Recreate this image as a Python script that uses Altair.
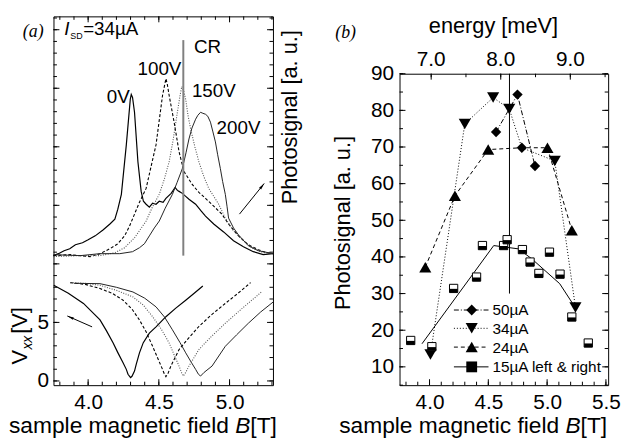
import altair as alt
import pandas as pd

FONT = "Liberation Sans"
SERIF = "Liberation Serif"

# ---------------- panel (a): Vxx traces (B [T], Vxx [V]) ----------------
vxx0_B = [3.757, 3.86, 3.967, 4.084, 4.13, 4.177, 4.21, 4.247, 4.27, 4.282, 4.300, 4.31, 4.328, 4.34, 4.363, 4.39, 4.433, 4.48, 4.55, 4.62, 4.69, 4.75, 4.811]
vxx0_V = [8.17, 7.49, 6.62, 5.21, 4.28, 3.24, 2.42, 1.55, 0.99, 0.57, 0.29, 0.40, 0.84, 1.41, 2.40, 3.27, 4.09, 4.62, 5.49, 6.22, 6.90, 7.49, 8.11]
vxx100_B = [3.874, 3.98, 4.084, 4.17, 4.247, 4.31, 4.363, 4.41, 4.456, 4.49, 4.526, 4.54, 4.55, 4.565, 4.585, 4.643, 4.70, 4.783, 4.87, 4.97, 5.06, 5.149]
vxx100_V = [8.40, 8.25, 7.89, 7.49, 6.90, 6.14, 5.21, 4.20, 2.96, 2.00, 0.99, 0.57, 0.37, 0.65, 1.27, 2.68, 3.52, 4.65, 5.63, 6.62, 7.49, 8.40]
vxx150_B = [3.874, 3.98, 4.084, 4.20, 4.317, 4.39, 4.456, 4.52, 4.573, 4.61, 4.643, 4.66, 4.673, 4.69, 4.713, 4.783, 4.87, 4.97, 5.10, 5.226]
vxx150_V = [8.40, 8.34, 8.17, 7.74, 7.18, 6.48, 5.49, 4.37, 3.24, 2.17, 1.27, 0.73, 0.42, 0.73, 1.27, 2.68, 3.78, 4.93, 6.31, 7.60]
vxx200_B = [3.90, 4.084, 4.20, 4.317, 4.40, 4.48, 4.54, 4.596, 4.65, 4.69, 4.73, 4.76, 4.78, 4.795, 4.82, 4.876, 4.97, 5.05, 5.133, 5.22, 5.31]
vxx200_V = [8.34, 8.31, 8.00, 7.60, 7.07, 6.33, 5.46, 4.37, 3.27, 2.40, 1.58, 0.99, 0.57, 0.42, 0.73, 1.27, 2.96, 3.94, 4.93, 5.89, 6.76]

# ---------------- panel (a): photosignal traces (B [T], a.u.) ----------------
ps0_B = [3.755, 3.79, 3.83, 3.87, 3.91, 3.96, 4.00, 4.05, 4.105, 4.154, 4.189, 4.21, 4.235, 4.270, 4.298, 4.305, 4.314, 4.328, 4.352, 4.375, 4.391, 4.410, 4.433, 4.456, 4.48, 4.503, 4.53, 4.550, 4.587, 4.615, 4.631, 4.643, 4.666, 4.69, 4.713, 4.760, 4.80, 4.830, 4.888, 4.958, 5.028, 5.098, 5.168, 5.238, 5.307]
ps0_P = [-0.2, 0.0, 0.3, 0.5, 0.9, 1.1, 1.4, 1.8, 2.4, 3.0, 3.5, 4.5, 6.0, 11.0, 15.6, 16.1, 15.8, 14.3, 9.3, 6.3, 5.3, 5.0, 4.7, 5.1, 5.0, 5.3, 5.2, 5.6, 6.1, 6.7, 6.4, 6.3, 6.1, 5.8, 5.5, 5.0, 4.3, 3.8, 3.0, 2.2, 1.3, 0.7, 0.2, -0.1, 0.0]
ps100_B = [3.755, 3.874, 4.014, 4.084, 4.154, 4.210, 4.258, 4.293, 4.328, 4.363, 4.410, 4.440, 4.480, 4.503, 4.526, 4.550, 4.559, 4.573, 4.608, 4.643, 4.678, 4.736, 4.783, 4.830, 4.888, 4.946, 4.993, 5.063, 5.133, 5.203, 5.259, 5.307]
ps100_P = [-0.2, -0.1, -0.3, 0.0, 0.5, 1.0, 1.8, 2.8, 4.0, 5.2, 6.6, 8.5, 11.0, 13.5, 16.0, 17.7, 17.2, 16.0, 13.3, 10.3, 8.3, 7.0, 6.2, 5.6, 4.8, 4.0, 3.0, 1.8, 0.9, 0.4, 0.1, 0.0]
ps150_B = [3.755, 3.944, 4.084, 4.189, 4.258, 4.328, 4.410, 4.454, 4.503, 4.538, 4.573, 4.601, 4.631, 4.650, 4.662, 4.675, 4.690, 4.706, 4.725, 4.755, 4.783, 4.818, 4.853, 4.888, 4.923, 4.970, 5.028, 5.098, 5.168, 5.238, 5.307]
ps150_P = [-0.3, -0.2, -0.2, 0.1, 0.6, 1.6, 3.3, 4.7, 6.0, 7.5, 9.3, 11.5, 14.3, 16.0, 16.9, 16.5, 15.6, 14.0, 12.6, 10.8, 9.3, 7.8, 6.6, 5.8, 5.0, 3.6, 2.3, 1.3, 0.5, 0.1, 0.0]
ps200_B = [3.755, 3.944, 4.084, 4.224, 4.314, 4.363, 4.398, 4.433, 4.468, 4.503, 4.545, 4.596, 4.629, 4.666, 4.692, 4.713, 4.734, 4.760, 4.776, 4.795, 4.811, 4.830, 4.846, 4.865, 4.881, 4.900, 4.916, 4.935, 4.951, 4.970, 4.982, 4.993, 5.028, 5.063, 5.133, 5.203, 5.307]
ps200_P = [-0.1, -0.2, 0.0, 0.0, 0.2, 0.6, 1.0, 1.8, 2.6, 3.3, 4.6, 6.0, 7.2, 8.6, 10.2, 11.6, 12.7, 13.6, 14.0, 14.3, 14.2, 14.1, 13.9, 13.3, 12.4, 11.3, 10.0, 8.6, 7.3, 6.0, 4.8, 3.6, 2.6, 1.9, 0.8, 0.3, 0.0]

a_series = ["0V", "100V", "150V", "200V"]
a_label_text = ["0V", "100V", "150V", "200V", "CR"]
cr_B = 4.673
a_xlabels = [4.0, 4.5, 5.0]
a_ylabels = [0, 5]
a_xminor = [3.8, 3.9, 4.0, 4.1, 4.2, 4.3, 4.4, 4.5, 4.6, 4.7, 4.8, 4.9, 5.0, 5.1, 5.2, 5.3]
a_xmajor = [4.0, 4.5, 5.0]
a_yminor = list(range(0, 32))
a_ymajor = [0, 5, 10, 15, 20, 25, 30]

# ---------------- panel (b) ----------------
b50_B = [4.566, 4.748, 4.785, 4.897]
b50_P = [74.1, 84.3, 69.8, 64.8]
b50_line = [True, True, False, True]
b34_B = [4.008, 4.300, 4.541, 4.678, 4.785, 5.065, 5.241]
b34_P = [13.4, 76.3, 83.5, 80.4, 69.8, 66.2, 26.2]
b34_mark = [True, True, True, True, False, True, True]
b24_B = [3.964, 4.216, 4.499, 4.785, 5.003, 5.210]
b24_P = [37.2, 56.7, 69.3, 69.8, 69.8, 47.3]
b24_mark = [True, True, True, False, True, True]
b15_B = [3.84, 4.02, 4.205, 4.40, 4.45, 4.63, 4.66, 4.79, 4.855, 4.93, 5.02, 5.11, 5.21, 5.35]
b15_P = [17.2, 15.5, 31.4, 34.5, 43.1, 43.1, 44.7, 42.0, 38.6, 35.5, 41.3, 35.3, 23.6, 16.5]
b15fit_B = [3.936, 4.546, 4.756, 4.869, 5.107, 5.239]
b15fit_P = [16.3, 43.1, 42.2, 39.5, 32.7, 26.2]
b_legend = ["50µA", "34µA", "24µA", "15µA left & right"]
b_vline_B = 4.68
b_xlabels = [4.0, 4.5, 5.0, 5.5]
b_ylabels = [10, 20, 30, 40, 50, 60, 70, 80, 90]
b_xminor = [3.8, 3.9, 4.0, 4.1, 4.2, 4.3, 4.4, 4.5, 4.6, 4.7, 4.8, 4.9, 5.0, 5.1, 5.2, 5.3, 5.4, 5.5]
b_xmajor = [4.0, 4.5, 5.0, 5.5]
b_yminor = [5, 10, 15, 20, 25, 30, 35, 40, 45, 50, 55, 60, 65, 70, 75, 80, 85, 90]
b_ymajor = [10, 20, 30, 40, 50, 60, 70, 80, 90]
e_labels = [7.0, 8.0, 9.0]
e_minor = [7.0, 7.5, 8.0, 8.5, 9.0, 9.5]

# ---------------- geometry ----------------
WA, HA = 222, 373
WB, HB = 211, 315
XA = alt.Scale(domain=[3.755, 5.307], nice=False, zero=False)
YA = alt.Scale(domain=[-0.36, 31.14], nice=False, zero=False)
PA = alt.Scale(domain=[-13.3, 24.0], nice=False, zero=False)
XB = alt.Scale(domain=[3.745, 5.519], nice=False, zero=False)
YB = alt.Scale(domain=[5, 90], nice=False, zero=False)
EB = alt.Scale(domain=[6.545, 9.544], nice=False, zero=False)

MAJ, MIN = 6, 3.5


def txt(s, x, y, size, angle=0, align="left", style="normal", font=FONT, color="black"):
    return alt.Chart(pd.DataFrame({"t": [s]})).mark_text(
        text=s, font=font, fontSize=size, fontStyle=style, angle=angle,
        align=align, baseline="alphabetic", color=color
    ).encode(x=alt.value(x), y=alt.value(y))


def ticks_x(vals, scale, h, length, top=False):
    y0, y1 = (0, length) if top else (h, h - length)
    return alt.Chart(pd.DataFrame({"v": vals})).mark_rule(color="black", strokeWidth=1).encode(
        x=alt.X("v:Q", scale=scale, axis=None), y=alt.value(y0), y2=alt.value(y1))


def ticks_y(vals, scale, w, length, right=False):
    x0, x1 = (w, w - length) if right else (0, length)
    return alt.Chart(pd.DataFrame({"v": vals})).mark_rule(color="black", strokeWidth=1).encode(
        y=alt.Y("v:Q", scale=scale, axis=None), x=alt.value(x0), x2=alt.value(x1))


STYLE = {
    "0V": dict(color="black", strokeWidth=1.2),
    "100V": dict(color="black", strokeWidth=1.1, strokeDash=[3, 2]),
    "150V": dict(color="#555555", strokeWidth=1.1, strokeDash=[1, 1.5]),
    "200V": dict(color="#222222", strokeWidth=1.0),
}

vxx_data = {"0V": (vxx0_B, vxx0_V), "100V": (vxx100_B, vxx100_V),
            "150V": (vxx150_B, vxx150_V), "200V": (vxx200_B, vxx200_V)}
ps_data = {"0V": (ps0_B, ps0_P), "100V": (ps100_B, ps100_P),
           "150V": (ps150_B, ps150_P), "200V": (ps200_B, ps200_P)}

layers_a = []
# invisible anchor fixing the top-left corner of the whole picture
layers_a.append(alt.Chart(pd.DataFrame({"a": [0]})).mark_rule(strokeWidth=0, opacity=0).encode(
    x=alt.value(-45), x2=alt.value(-45), y=alt.value(-5), y2=alt.value(-5)))

first = True
for s in a_series:
    bb, vv = vxx_data[s]
    df = pd.DataFrame({"B": bb, "V": vv})
    if first:
        xax = alt.Axis(values=a_xlabels, format=".1f", labelPadding=7, labelFlush=False,
                       labelOverlap=False, title=None)
        yax = alt.Axis(values=a_ylabels, format="d", labelPadding=5, labelOverlap=False, title=None)
        first = False
    else:
        xax, yax = None, None
    layers_a.append(alt.Chart(df).mark_line(**STYLE[s]).encode(
        x=alt.X("B:Q", scale=XA, axis=xax), y=alt.Y("V:Q", scale=YA, axis=yax)))

for s in a_series:
    bb, pp = ps_data[s]
    df = pd.DataFrame({"B": bb, "P": pp})
    layers_a.append(alt.Chart(df).mark_line(**STYLE[s]).encode(
        x=alt.X("B:Q", scale=XA, axis=None), y=alt.Y("P:Q", scale=PA, axis=None)))

# CR line
layers_a.append(alt.Chart(pd.DataFrame({"B": [cr_B], "P1": [21.6], "P2": [-0.2]})).mark_rule(
    color="#808080", strokeWidth=2).encode(
    x=alt.X("B:Q", scale=XA, axis=None), y=alt.Y("P1:Q", scale=PA, axis=None), y2="P2:Q"))

# arrows
ARROW = "M0,0L0.45,2.2L-0.45,2.2Z"
arr1 = pd.DataFrame({"B1": [5.070], "B2": [5.245], "P1": [4.0], "P2": [7.1]})
layers_a.append(alt.Chart(arr1).mark_rule(color="black", strokeWidth=1).encode(
    x=alt.X("B1:Q", scale=XA, axis=None), x2="B2:Q",
    y=alt.Y("P1:Q", scale=PA, axis=None), y2="P2:Q"))
layers_a.append(alt.Chart(arr1).mark_point(shape=ARROW, filled=True, color="black", size=36, angle=39, opacity=1).encode(
    x=alt.X("B2:Q", scale=XA, axis=None), y=alt.Y("P2:Q", scale=PA, axis=None)))
arr2 = pd.DataFrame({"B1": [4.028], "B2": [3.853], "V1": [4.62], "V2": [5.55]})
layers_a.append(alt.Chart(arr2).mark_rule(color="black", strokeWidth=1).encode(
    x=alt.X("B1:Q", scale=XA, axis=None), x2="B2:Q",
    y=alt.Y("V1:Q", scale=YA, axis=None), y2="V2:Q"))
layers_a.append(alt.Chart(arr2).mark_point(shape=ARROW, filled=True, color="black", size=36, angle=294, opacity=1).encode(
    x=alt.X("B2:Q", scale=XA, axis=None), y=alt.Y("V2:Q", scale=YA, axis=None)))

# ticks (a)
layers_a += [
    ticks_x(a_xminor, XA, HA, MIN), ticks_x(a_xmajor, XA, HA, MAJ),
    ticks_x(a_xminor, XA, HA, MIN, top=True), ticks_x(a_xmajor, XA, HA, MAJ, top=True),
    ticks_y(a_yminor, YA, WA, MIN), ticks_y(a_ymajor, YA, WA, MAJ),
    ticks_y(a_yminor, YA, WA, MIN, right=True), ticks_y(a_ymajor, YA, WA, MAJ, right=True),
]

# texts (a)
layers_a += [
    txt("(a)", -31, 21, 18, style="italic", font=SERIF),
    txt("I", 11, 19, 19, style="italic"),
    txt("SD", 17, 23, 9),
    txt("=34µA", 30, 19, 19),
    txt(a_label_text[0], 54, 88, 19),
    txt(a_label_text[1], 85, 59, 19),
    txt(a_label_text[2], 140, 82, 19),
    txt(a_label_text[3], 165, 119, 19),
    txt(a_label_text[4], 142, 37, 19),
    txt("Photosignal [a. u.]", 246, 102, 22, angle=270, align="center"),
    txt("V", -27, 352, 22, angle=270),
    txt("xx", -22, 337, 14, angle=270, style="italic"),
    txt("[V]", -27, 321, 22, angle=270),
    txt("sample magnetic field ", -45, 421, 23),
    txt("B", 183.8, 421, 23, style="italic"),
    txt(" [T]", 199.1, 421, 23),
]

chart_a = alt.layer(*layers_a).resolve_scale(x="independent", y="independent").properties(width=WA, height=HA)

# ---------------- panel (b) layers ----------------
layers_b = []
df15fit = pd.DataFrame({"B": b15fit_B, "P": b15fit_P})
layers_b.append(alt.Chart(df15fit).mark_line(color="black", strokeWidth=1).encode(
    x=alt.X("B:Q", scale=XB, axis=alt.Axis(values=b_xlabels, format=".1f", labelPadding=7,
                                           labelFlush=False, labelOverlap=False, title=None)),
    y=alt.Y("P:Q", scale=YB, axis=alt.Axis(values=b_ylabels, format="d", labelPadding=6,
                                           labelOverlap=False, title=None))))

layers_b.append(alt.Chart(pd.DataFrame({"B": [b_vline_B], "P1": [90], "P2": [30]})).mark_rule(
    color="black", strokeWidth=1).encode(
    x=alt.X("B:Q", scale=XB, axis=None), y=alt.Y("P1:Q", scale=YB, axis=None), y2="P2:Q"))

DASH = {"50": [5, 2, 1, 2], "34": [1, 2], "24": [4, 3]}

df50 = pd.DataFrame({"B": b50_B, "P": b50_P, "line": b50_line})
df34 = pd.DataFrame({"B": b34_B, "P": b34_P, "mark": b34_mark})
df24 = pd.DataFrame({"B": b24_B, "P": b24_P, "mark": b24_mark})
df15 = pd.DataFrame({"B": b15_B, "P": b15_P})

for df, key, filt in [(df24, "24", None), (df34, "34", None), (df50, "50", "datum.line")]:
    c = alt.Chart(df)
    if filt:
        c = c.transform_filter(filt)
    layers_b.append(c.mark_line(color="black", strokeWidth=1, strokeDash=DASH[key]).encode(
        x=alt.X("B:Q", scale=XB, axis=None), y=alt.Y("P:Q", scale=YB, axis=None)))

layers_b.append(alt.Chart(df24).transform_filter("datum.mark").mark_point(
    shape="triangle-up", filled=True, color="black", size=150, opacity=1).encode(
    x=alt.X("B:Q", scale=XB, axis=None), y=alt.Y("P:Q", scale=YB, axis=None)))
layers_b.append(alt.Chart(df34).transform_filter("datum.mark").mark_point(
    shape="triangle-down", filled=True, color="black", size=150, opacity=1).encode(
    x=alt.X("B:Q", scale=XB, axis=None), y=alt.Y("P:Q", scale=YB, axis=None)))
layers_b.append(alt.Chart(df50).mark_point(
    shape="diamond", filled=True, color="black", size=110, opacity=1).encode(
    x=alt.X("B:Q", scale=XB, axis=None), y=alt.Y("P:Q", scale=YB, axis=None)))
layers_b.append(alt.Chart(df15).mark_point(
    shape="square", filled=True, fill="white", stroke="black", strokeWidth=1, size=70, opacity=1).encode(
    x=alt.X("B:Q", scale=XB, axis=None), y=alt.Y("P:Q", scale=YB, axis=None)))
layers_b.append(alt.Chart(df15).mark_point(
    shape="M-1,0.1H1V1H-1Z", filled=True, color="black", size=70, opacity=1).encode(
    x=alt.X("B:Q", scale=XB, axis=None), y=alt.Y("P:Q", scale=YB, axis=None)))

# ticks (b)
layers_b += [
    ticks_x(b_xminor, XB, HB, MIN), ticks_x(b_xmajor, XB, HB, MAJ),
    ticks_x(e_minor, EB, HB, MIN, top=True), ticks_x(e_labels, EB, HB, MAJ, top=True),
    ticks_y(b_yminor, YB, WB, MIN), ticks_y(b_ymajor, YB, WB, MAJ),
    ticks_y(b_yminor, YB, WB, MIN, right=True), ticks_y(b_ymajor, YB, WB, MAJ, right=True),
]

# top energy labels
layers_b.append(alt.Chart(pd.DataFrame({"E": e_labels, "lab": [f"{v:.1f}" for v in e_labels]})).mark_text(
    font=FONT, fontSize=21, align="center", baseline="alphabetic", color="black").encode(
    x=alt.X("E:Q", scale=EB, axis=None), y=alt.value(-8), text="lab:N"))

# legend (b)
LEG_Y = [239, 257.5, 276.5, 296.5]
leg_dash = [[5, 2, 1, 2], [1, 2], [4, 3], None]
leg_shape = ["diamond", "triangle-down", "triangle-up", "square"]
leg_size = [120, 150, 150, 120]
for i, name in enumerate(b_legend):
    yy = LEG_Y[i]
    kw = dict(color="black", strokeWidth=1)
    if leg_dash[i] is not None:
        kw["strokeDash"] = leg_dash[i]
    layers_b.append(alt.Chart(pd.DataFrame({"a": [0]})).mark_rule(**kw).encode(
        x=alt.value(55), x2=alt.value(90), y=alt.value(yy)))
    layers_b.append(alt.Chart(pd.DataFrame({"a": [0]})).mark_point(
        shape=leg_shape[i], filled=True, color="black", size=leg_size[i], opacity=1).encode(
        x=alt.value(73), y=alt.value(yy)))
    layers_b.append(txt(name, 94, yy + 5.5, 15.5))

layers_b += [
    txt("(b)", -65, -36, 18, style="italic", font=SERIF),
    txt("energy [meV]", 95, -41, 22, align="center"),
    txt("Photosignal [a. u.]", -50, 151, 22, angle=270, align="center"),
    txt("sample magnetic field ", -61, 363, 23),
    txt("B", 167.8, 363, 23, style="italic"),
    txt(" [T]", 183.1, 363, 23),
]

chart_b = alt.layer(*layers_b).resolve_scale(x="independent", y="independent").properties(width=WB, height=HB)

spacer = alt.Chart(pd.DataFrame({"a": [0]})).mark_text(text="", fontSize=8).encode(
    x=alt.value(100), y=alt.value(30)).properties(width=WB, height=48,
                                                  view=alt.ViewBackground(stroke="transparent"))

right = alt.vconcat(spacer, chart_b, spacing=10, bounds="flush")
chart = alt.hconcat(chart_a, right, spacing=128, bounds="flush").properties(
    padding={"left": 0, "top": 0, "right": 0, "bottom": 0}, background="white"
).configure_view(stroke="black", strokeWidth=1).configure_axis(
    labelFont=FONT, labelFontSize=21, labelColor="black", grid=False, domain=False, ticks=False
)

chart.save("out.html", embed_options={"renderer": "svg", "actions": False})
